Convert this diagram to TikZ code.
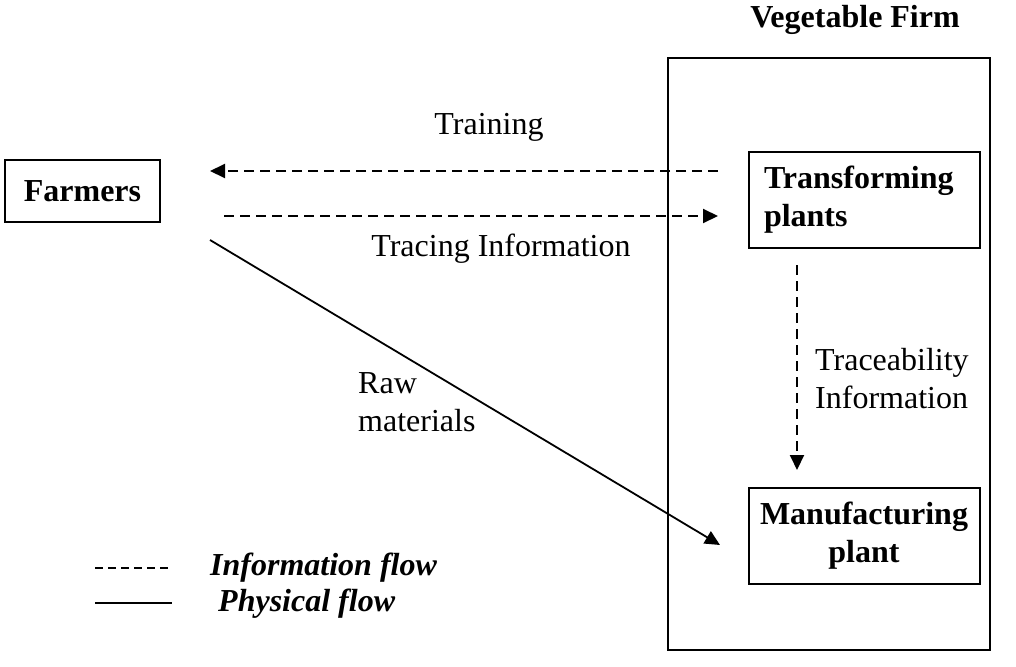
\documentclass[tikz,border=0pt]{standalone}
\usepackage{fontspec}
\setmainfont{Liberation Serif}
\usetikzlibrary{arrows.meta}
\begin{document}
\begin{tikzpicture}[x=1pt,y=-1pt,
  lbl/.style={font=\fontsize{32}{38}\selectfont, inner sep=0pt},
  box/.style={draw, line width=2pt, font=\fontsize{32}{38}\selectfont\bfseries, align=center, inner sep=0pt},
  info/.style={line width=2pt, dash pattern=on 10pt off 6pt, -{Triangle[length=15pt,width=14pt]}},
  phys/.style={line width=1.8pt, -{Triangle[length=15pt,width=14pt]}},
  leg/.style={font=\fontsize{32}{38}\selectfont\bfseries\itshape, inner sep=0pt, anchor=west}]
\useasboundingbox (0,0) rectangle (1016,666);
% outer firm box
\node[draw, line width=2pt, minimum width=322pt, minimum height=592pt, inner sep=0pt] (firm) at (829,354) {};
\node[lbl, font=\fontsize{32}{38}\selectfont\bfseries] (firmlbl) at (855,20) {Vegetable Firm};
% boxes
\node[box, minimum width=155pt, minimum height=62pt] (farm) at (82.5,191) {Farmers};
\node[box, minimum width=231pt, minimum height=96pt, align=left, text width=200pt] (trans) at (864,200) {Transforming\\plants};
\node[box, minimum width=231pt, minimum height=96pt] (manu) at (864,536) {Manufacturing\\plant};
% coordinates
\coordinate (t1) at (718,171);
\coordinate (t2) at (210,171);
\coordinate (r1) at (224,216);
\coordinate (r2) at (718,216);
\coordinate (p1) at (210,240);
\coordinate (p2) at (720,545);
\coordinate (v1) at (797,265);
\coordinate (v2) at (797,470);
% connectors
\draw[info] (t1) -- (t2);
\draw[info] (r1) -- (r2);
\draw[phys] (p1) -- (p2);
\draw[info] (v1) -- (v2);
% labels
\node[lbl] (training) at (489,127) {Training};
\node[lbl] (tracing) at (501,249) {Tracing Information};
\node[lbl, align=left, anchor=west] (raw) at (358,402) {Raw\\materials};
\node[lbl, align=left, anchor=west] (tinfo) at (815,379) {Traceability\\Information};
% legend
\coordinate (la1) at (95,568);
\coordinate (la2) at (172,568);
\coordinate (lb1) at (95,603);
\coordinate (lb2) at (172,603);
\draw[line width=1.2pt, dash pattern=on 8pt off 5pt] (la1) -- (la2);
\draw[line width=1.6pt] (lb1) -- (lb2);
\node[leg] (linfo) at (210,568) {Information flow};
\node[leg] (lphys) at (218,604) {Physical flow};
\end{tikzpicture}
\end{document}
